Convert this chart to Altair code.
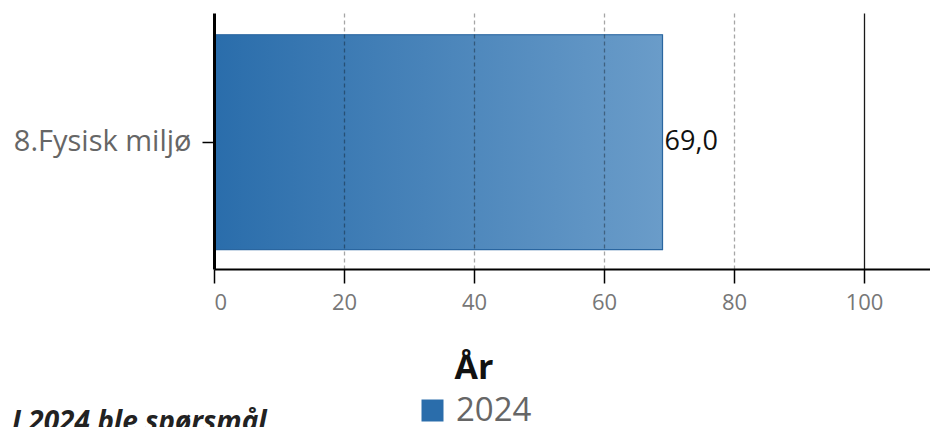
import altair as alt
import pandas as pd

categories = ["8.Fysisk miljø"]
values = [69.0]
years = ["2024"]
tick_values = [0, 20, 40, 60, 80, 100]
note_text = ["I 2024 ble spørsmål"]

df = pd.DataFrame({"kategori": categories, "verdi": values, "aar": years})

FONT = "Open Sans"

x_enc = alt.X(
    "verdi:Q",
    title=None,
    scale=alt.Scale(domain=[0, 110.15], nice=False, zero=True),
    axis=alt.Axis(
        values=tick_values,
        grid=True,
        gridColor="#000000",
        gridOpacity={"condition": {"test": "datum.value == 100", "value": 0.9}, "value": 0.35},
        gridDash={"condition": {"test": "datum.value == 100", "value": []}, "value": [4, 3]},
        gridWidth={"condition": {"test": "datum.value == 0", "value": 0}, "value": 1.3},
        domainColor="#000000",
        domainWidth=2,
        tickColor="#000000",
        tickWidth=1.5,
        tickSize=14,
        labelColor="#777777",
        labelFontSize=22,
        labelFont=FONT,
        labelPadding=9,
        zindex=1,
    ),
)

y_enc = alt.Y(
    "kategori:N",
    title=None,
    scale=alt.Scale(paddingInner=0.1, paddingOuter=0.086, align=0.53),
    axis=alt.Axis(
        domainColor="#000000",
        domainWidth=3,
        tickColor="#000000",
        tickWidth=1.5,
        tickSize=12,
        labelColor="#666666",
        labelFontSize=29,
        labelFont=FONT,
        labelPadding=11,
        zindex=2,
    ),
)

base = alt.Chart(df).encode(x=x_enc, y=y_enc)

bar_legend = base.mark_bar().encode(
    color=alt.Color(
        "aar:N",
        scale=alt.Scale(range=["#2a6dab"]),
        legend=alt.Legend(
            title="År",
            orient="none",
            legendX=202,
            legendY=339,
            titleFont=FONT,
            titleFontSize=34,
            titleFontWeight="bold",
            titleColor="#111111",
            titleAnchor="middle",
            titlePadding=8,
            labelFont=FONT,
            labelFontSize=33,
            labelColor="#666666",
            labelOffset=7,
            symbolType="square",
            symbolSize=484,
            symbolStrokeWidth=0,
            symbolOpacity=1,
        ),
    )
)

bar_grad = base.mark_bar(
    color=alt.Gradient(
        gradient="linear",
        stops=[
            alt.GradientStop(offset=0, color="#2a6dab"),
            alt.GradientStop(offset=1, color="#6a9cc9"),
        ],
        x1=0, x2=1, y1=0, y2=0,
    ),
    stroke="#2a66a0",
    strokeWidth=1.2,
)

label = base.mark_text(
    align="left", baseline="middle", dx=2, fontSize=27, font=FONT, color="#111111"
).transform_calculate(
    lbl="replace(format(datum.verdi, '.1f'), '.', ',')"
).encode(text="lbl:N")

note = alt.Chart(pd.DataFrame({"t": note_text})).mark_text(
    align="left", baseline="top", fontSize=28, font=FONT,
    fontStyle="italic", fontWeight="bold", color="#222222"
).encode(text="t:N", x=alt.value(-202), y=alt.value(396))

chart = alt.layer(bar_legend, bar_grad, label, note).properties(
    width=716,
    height=256,
    autosize=alt.AutoSizeParams(type="none"),
    padding={"left": 206, "top": 5, "right": 0, "bottom": 170},
).configure_view(stroke=None)

chart.save("out.html", embed_options={"renderer": "svg", "actions": False})
